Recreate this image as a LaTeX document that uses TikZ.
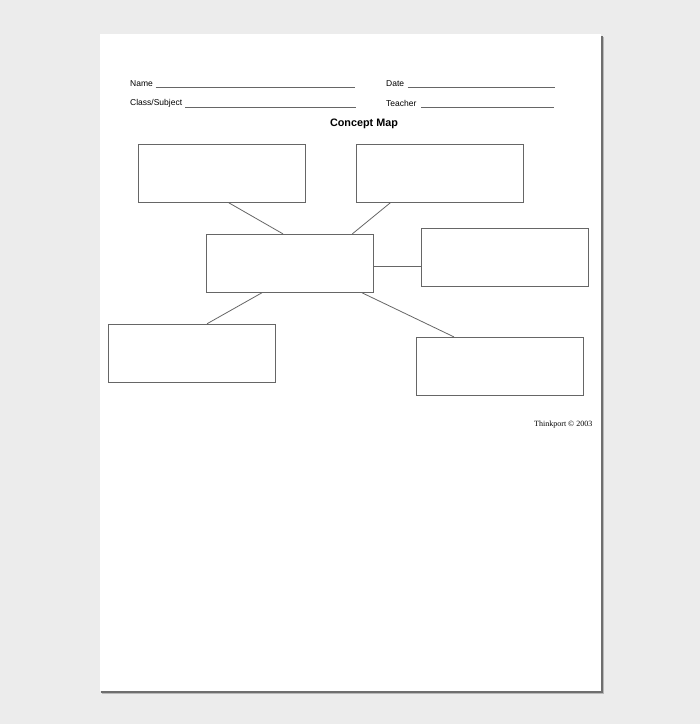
\documentclass[tikz,border=0pt]{standalone}
\usepackage{fontspec}
\setmainfont{Liberation Sans}
\newfontfamily\serifft{Liberation Serif}
\usetikzlibrary{calc}
\definecolor{bgcol}{HTML}{ECECEC}
\definecolor{linecol}{HTML}{666666}
\definecolor{shadowA}{HTML}{6E6E6E}
\definecolor{shadowB}{HTML}{B8B8B8}
\tikzset{
  cbox/.style={draw=linecol, line width=0.9pt, fill=white, minimum width=167pt, minimum height=58pt, inner sep=0pt},
  link/.style={draw=linecol, line width=0.8pt},
  fieldline/.style={draw=linecol, line width=0.7pt},
  lbl/.style={font=\fontsize{8.5}{10}\selectfont, anchor=west, inner sep=0pt}
}
\begin{document}
\begin{tikzpicture}[x=1pt,y=-1pt]
\useasboundingbox (0,0) rectangle (700,724);
\fill[bgcol] (0,0) rectangle (700,724);
% page shadow
\fill[shadowB] (102,37) rectangle (604,694);
\fill[shadowA] (101,36) rectangle (602.5,692.5);
\fill[white] (100,34) rectangle (600.5,691);
% header fields
\node[lbl] (name) at (130,83.3) {Name};
\draw[fieldline] (155.7,87.7) -- (355,87.7);
\node[lbl] (cls) at (130,103.3) {Class/Subject};
\draw[fieldline] (185.3,107.3) -- (356,107.3);
\node[lbl] (date) at (386,83.3) {Date};
\draw[fieldline] (407.7,87.5) -- (555,87.5);
\node[lbl] (teacher) at (386,103.3) {Teacher};
\draw[fieldline] (421,107.3) -- (554,107.3);
\node[font=\fontsize{10.8}{12}\selectfont\bfseries, inner sep=0pt] (title) at (364,124.3) {Concept Map};
% boxes
\node[cbox] (A) at (222,173.3) {};
\node[cbox] (B) at (440,173.3) {};
\node[cbox] (C) at (290.3,263.3) {};
\node[cbox] (D) at (504.7,257.2) {};
\node[cbox] (E) at (192,353.2) {};
\node[cbox] (F) at (500.2,366.3) {};
% connectors
\draw[link] ([xshift=90.7pt]A.south west) -- ([xshift=76.6pt]C.north west);
\draw[link] ([xshift=34.3pt]B.south west) -- ([xshift=146pt]C.north west);
\coordinate (cd) at ([yshift=-3.4pt]C.east);
\draw[link] (cd) -- (cd -| D.west);
\draw[link] ([xshift=55.6pt]C.south west) -- ([xshift=99pt]E.north west);
\draw[link] ([xshift=155.6pt]C.south west) -- ([xshift=37.6pt]F.north west);
% footer
\node[font=\serifft\fontsize{8}{10}\selectfont, anchor=east, inner sep=0pt] (credit) at (592.5,424.3) {Thinkport © 2003};
\end{tikzpicture}
\end{document}
